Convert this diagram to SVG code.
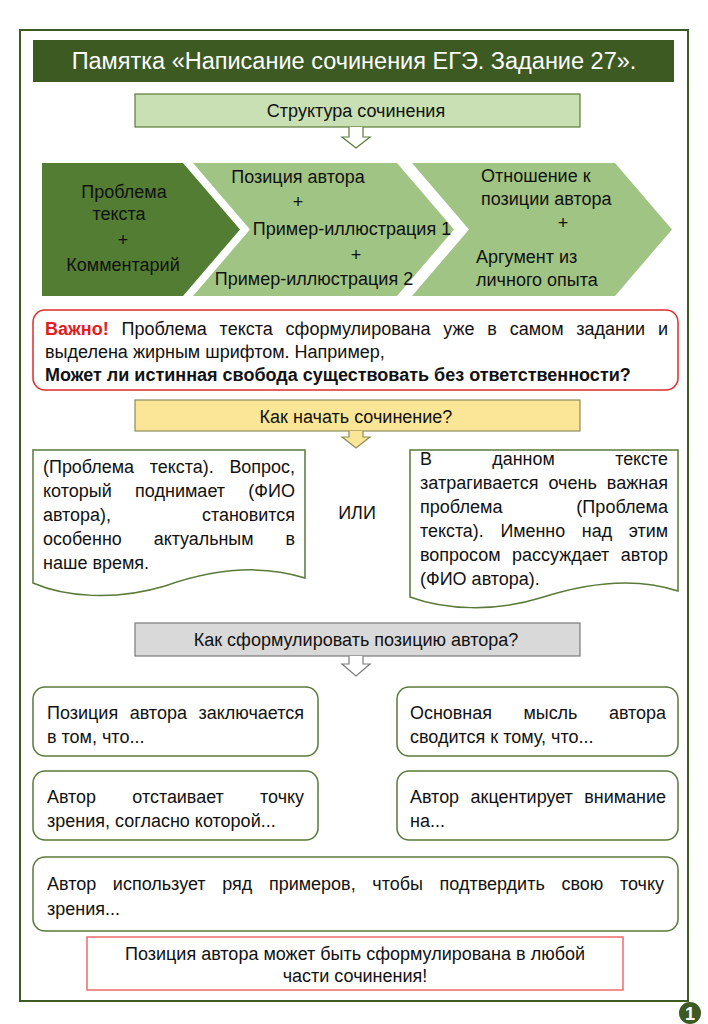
<svg xmlns="http://www.w3.org/2000/svg" width="708" height="1024" viewBox="0 0 708 1024">
<style>
text{font-family:"Liberation Sans",Arial,sans-serif;font-size:18px;fill:#111}
.c{text-anchor:middle}
.hdr{stroke-width:1.2}
.gbox{fill:#fff;stroke:#5a7a3a;stroke-width:1.5}
</style>
<rect x="0" y="0" width="708" height="1024" fill="#fff"/>
<rect x="20" y="30" width="668" height="971" fill="none" stroke="#3d5a22" stroke-width="2"/>
<g id="title">
<rect x="33" y="40" width="641" height="42" fill="#3d5a22"/>
<text x="354" y="69" class="c" style="font-size:23.5px;fill:#fff">Памятка «Написание сочинения ЕГЭ. Задание 27».</text>
</g>
<g id="structure">
<rect x="135" y="94" width="445" height="33" fill="#c8e0b4" stroke="#5a7a3a" class="hdr"/>
<text x="356" y="117" class="c">Структура сочинения</text>
</g>
<g id="chev1">
<polygon points="42,163 183,163 240,229.5 183,296 42,296" fill="#527d33"/>
<text x="124" y="198" class="c">Проблема</text>
<text x="119" y="220" class="c">текста</text>
<text x="123" y="246" class="c">+</text>
<text x="123" y="271" class="c">Комментарий</text>
</g>
<g id="chev2">
<polygon points="193,163 397,163 454,229.5 397,296 193,296 250,229.5" fill="#a0c484"/>
<text x="298" y="183" class="c">Позиция автора</text>
<text x="298" y="208" class="c">+</text>
<text x="352" y="235" class="c">Пример-иллюстрация 1</text>
<text x="356" y="261" class="c">+</text>
<text x="314" y="285" class="c">Пример-иллюстрация 2</text>
</g>
<g id="chev3">
<polygon points="412,163 615,163 672,229.5 615,296 412,296 469,229.5" fill="#a0c484"/>
<text x="481" y="182">Отношение к</text>
<text x="481" y="205">позиции автора</text>
<text x="563" y="229" class="c">+</text>
<text x="476" y="263">Аргумент из</text>
<text x="476" y="286">личного опыта</text>
</g>
<g id="important">
<rect x="33" y="310" width="645" height="80" rx="12" fill="#fff" stroke="#e02b2b" stroke-width="1.5"/>
<text x="45" y="335" word-spacing="7.8" textLength="623" lengthAdjust="spacingAndGlyphs"><tspan style="fill:#e02020;font-weight:bold">Важно!</tspan> Проблема текста сформулирована уже в самом задании и</text>
<text x="45" y="358">выделена жирным шрифтом. Например,</text>
<text x="45" y="381" style="font-weight:bold">Может ли истинная свобода существовать без ответственности?</text>
</g>
<g id="start">
<rect x="135" y="400" width="445" height="31" fill="#fbe597" stroke="#8c8c5c" class="hdr"/>
<text x="356" y="423" class="c">Как начать сочинение?</text>
</g>
<g id="doc-left">
<path d="M33,450 H305 V578 C255,562 205,572 165,586 C115,601 65,597 33,583 Z" class="gbox"/>
<text x="43" y="473" word-spacing="10.7" textLength="252" lengthAdjust="spacingAndGlyphs">(Проблема текста). Вопрос,</text>
<text x="43" y="497" word-spacing="18.3" textLength="252" lengthAdjust="spacingAndGlyphs">который поднимает (ФИО</text>
<text x="43" y="521" word-spacing="86.6" textLength="252" lengthAdjust="spacingAndGlyphs">автора), становится</text>
<text x="43" y="545" word-spacing="27.2" textLength="252" lengthAdjust="spacingAndGlyphs">особенно актуальным в</text>
<text x="43" y="569">наше время.</text>
</g>
<g id="or">
<text x="357" y="519" class="c">ИЛИ</text>
</g>
<g id="doc-right">
<path d="M410,450 H678 V591 C630,575 580,585 540,598 C495,612 445,610 410,597 Z" class="gbox"/>
<text x="420" y="465" word-spacing="55.8" textLength="248" lengthAdjust="spacingAndGlyphs">В данном тексте</text>
<text x="420" y="489" word-spacing="5" textLength="248" lengthAdjust="spacingAndGlyphs">затрагивается очень важная</text>
<text x="420" y="513" word-spacing="68.7" textLength="248" lengthAdjust="spacingAndGlyphs">проблема (Проблема</text>
<text x="420" y="537" word-spacing="11.8" textLength="248" lengthAdjust="spacingAndGlyphs">текста). Именно над этим</text>
<text x="420" y="561" word-spacing="6.5" textLength="248" lengthAdjust="spacingAndGlyphs">вопросом рассуждает автор</text>
<text x="420" y="585">(ФИО автора).</text>
</g>
<g id="position">
<rect x="135" y="623" width="445" height="33" fill="#d9d9d9" stroke="#7a7a7a" class="hdr"/>
<text x="356" y="646" class="c">Как сформулировать позицию автора?</text>
</g>
<g id="box1">
<rect x="33" y="687" width="285" height="69" rx="12" class="gbox"/>
<text x="47" y="719" word-spacing="6.5" textLength="257" lengthAdjust="spacingAndGlyphs">Позиция автора заключается</text>
<text x="47" y="743">в том, что...</text>
</g>
<g id="box2">
<rect x="397" y="687" width="281" height="69" rx="12" class="gbox"/>
<text x="410" y="719" word-spacing="26.6" textLength="256" lengthAdjust="spacingAndGlyphs">Основная мысль автора</text>
<text x="410" y="743">сводится к тому, что...</text>
</g>
<g id="box3">
<rect x="33" y="771" width="285" height="69" rx="12" class="gbox"/>
<text x="47" y="803" word-spacing="31.5" textLength="257" lengthAdjust="spacingAndGlyphs">Автор отстаивает точку</text>
<text x="47" y="827">зрения, согласно которой...</text>
</g>
<g id="box4">
<rect x="397" y="771" width="281" height="69" rx="12" class="gbox"/>
<text x="410" y="803" word-spacing="6.5" textLength="256" lengthAdjust="spacingAndGlyphs">Автор акцентирует внимание</text>
<text x="410" y="827">на...</text>
</g>
<g id="box5">
<rect x="33" y="857" width="645" height="74" rx="12" class="gbox"/>
<text x="47" y="890" word-spacing="11.7" textLength="617" lengthAdjust="spacingAndGlyphs">Автор использует ряд примеров, чтобы подтвердить свою точку</text>
<text x="47" y="915">зрения...</text>
</g>
<g id="note">
<rect x="87" y="937" width="536" height="53" fill="#fff" stroke="#f06a6a" stroke-width="1.5"/>
<text x="355" y="960" class="c">Позиция автора может быть сформулирована в любой</text>
<text x="355" y="982" class="c">части сочинения!</text>
</g>
<g id="connectors">
<path d="M349,127 V137 H342 L356,148 L370,137 H363 V127" fill="#fff" stroke="#5a7a3a" stroke-width="1.2"/>
<path d="M349,431 V437 H342 L356,448 L370,437 H363 V431" fill="#fbe597" stroke="#8c8c5c" stroke-width="1.2"/>
<path d="M349,656 V664 H342 L356,676 L370,664 H363 V656" fill="#fff" stroke="#7a7a7a" stroke-width="1.2"/>
</g>
<g id="page">
<circle cx="690" cy="1013" r="11" fill="#3d5a22"/>
<text x="690" y="1020" class="c" style="fill:#fff;font-size:18px;font-weight:bold">1</text>
</g>
</svg>
